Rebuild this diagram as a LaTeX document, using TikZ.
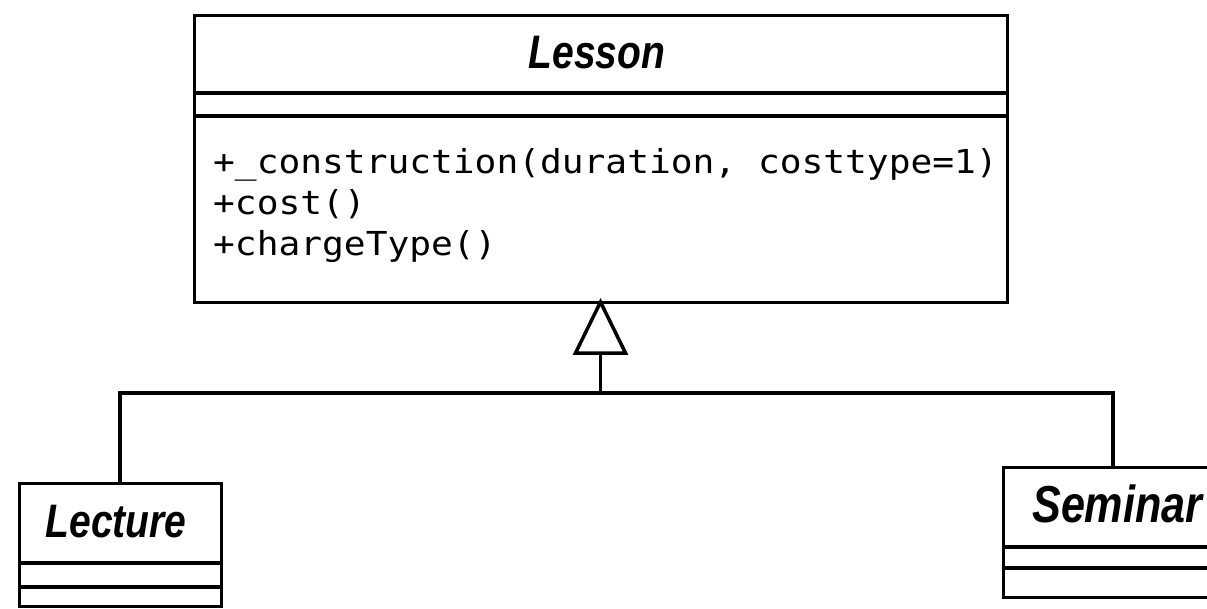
\documentclass[tikz,border=0pt]{standalone}
\usepackage{fontspec}
\usetikzlibrary{calc}
\newfontfamily\umltitle[FakeStretch=0.83]{Liberation Sans}
\newfontfamily\umlmono[FakeStretch=1.097]{DejaVu Sans Mono}
\begin{document}
\begin{tikzpicture}[x=1pt,y=-1pt,
  box/.style={draw, line width=3pt, fill=white, inner sep=0pt, outer sep=0pt},
  divider/.style={line width=4.5pt},
  link/.style={line width=3.5pt},
  classname/.style={font=\umltitle\bfseries\itshape\fontsize{47}{50}\selectfont, inner sep=0pt},
  ops/.style={font=\umlmono\fontsize{33}{40}\selectfont, inner sep=0pt, anchor=base west}]
\useasboundingbox (0,0) rectangle (1207,608);

% Lesson
\node[box, minimum width=813pt, minimum height=287pt] (lesson) at (600.5,158.5) {};
\draw[divider] (lesson.west |- 0,93) -- (lesson.east |- 0,93);
\draw[divider] (lesson.west |- 0,116) -- (lesson.east |- 0,116);
\node[classname, anchor=base] (lessonname) at (597,68) {Lesson};
\node[ops] (op1) at (213,173) {+\_construction(duration, costtype=1)};
\node[ops] (op2) at (213,214) {+cost()};
\node[ops] (op3) at (213,255) {+chargeType()};

% Lecture
\node[box, minimum width=202pt, minimum height=123pt] (lecture) at (120,544.5) {};
\draw[divider] (lecture.west |- 0,563) -- (lecture.east |- 0,563);
\draw[divider] (lecture.west |- 0,587) -- (lecture.east |- 0,587);
\node[classname, anchor=base] (lecturename) at (116,537) {Lecture};

% Seminar
\node[box, minimum width=220pt, minimum height=130pt] (seminar) at (1113,532) {};
\draw[divider] (seminar.west |- 0,547) -- (seminar.east |- 0,547);
\draw[divider] (seminar.west |- 0,568) -- (seminar.east |- 0,568);
\node[classname, font=\umltitle\bfseries\itshape\fontsize{52}{55}\selectfont, anchor=base west] (seminarname) at (1032,522) {Seminar};

% generalization
\coordinate (tribase) at ($(lesson.south)+(0,51)$);
\coordinate (junction) at (lesson.south |- 0,393);
\draw[link] (lecture.north) -- (lecture.north |- junction) -- (seminar.north |- junction) -- (seminar.north);
\draw[link] (junction) -- (tribase);
\draw[link, fill=white, line join=miter] (lesson.south) -- ($(tribase)+(-25,0)$) -- ($(tribase)+(25,0)$) -- cycle;
\end{tikzpicture}
\end{document}
